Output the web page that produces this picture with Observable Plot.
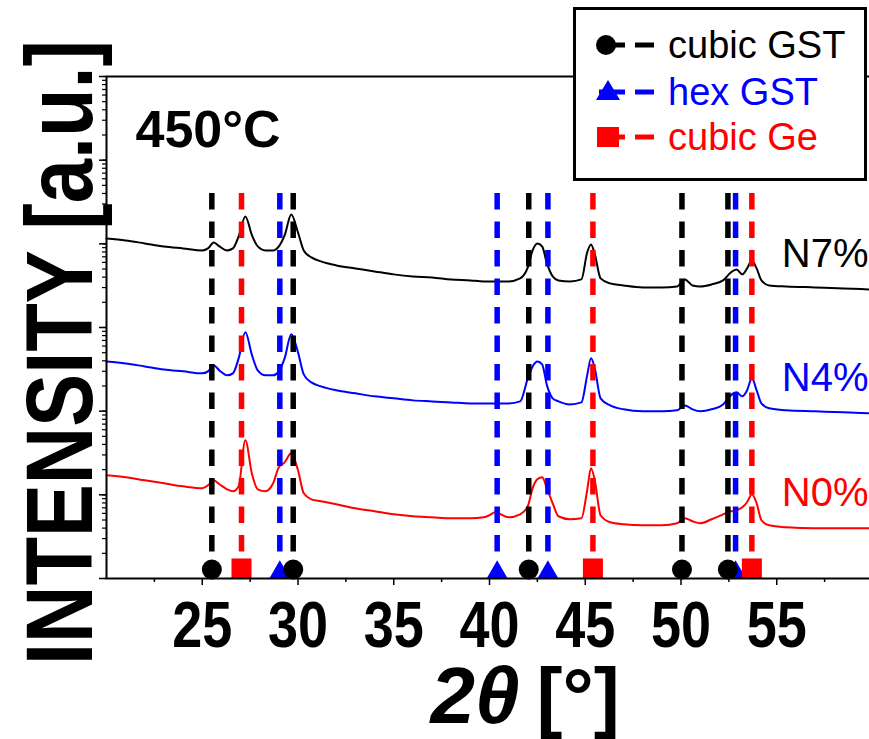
<!DOCTYPE html>
<html><head><meta charset="utf-8">
<script src="https://cdn.jsdelivr.net/npm/d3@7"></script>
<script src="https://cdn.jsdelivr.net/npm/@observablehq/plot@0.6"></script>
<style>
body{margin:0;background:#fff;}
#wrap{position:relative;width:869px;height:739px;overflow:hidden;background:#fff;}
#legend{position:absolute;left:573px;top:7px;}
</style></head><body><div id="wrap"></div>
<script>
// 2θ sample positions (degrees)
const twoTheta = [20,21,22,23,24,25,25.3,25.6,25.9,26.3,26.6,26.9,27.25,27.6,27.9,28.3,28.7,29.0,29.3,29.65,30.0,30.3,30.7,31.2,32,33,34,35,36,37,38,39,39.7,40.0,40.3,41,41.6,42.0,42.25,42.5,42.75,43.0,43.3,43.6,44.2,44.8,45.1,45.3,45.5,45.8,46.3,47,48,49,49.8,50.2,50.6,51,51.6,52.2,52.6,52.9,53.2,53.45,53.7,53.95,54.2,54.6,55.5,57,58.5,59.8];
// log10 of intensity (a.u.)
const logN7 = [4.065,4.041,4.005,3.969,3.945,3.921,3.945,4.017,3.969,3.921,3.945,4.089,4.327,4.100,3.969,3.921,3.921,3.969,4.100,4.351,4.136,3.921,3.838,3.790,3.742,3.706,3.670,3.635,3.611,3.599,3.575,3.563,3.551,3.551,3.551,3.551,3.587,3.718,3.921,4.005,3.969,3.766,3.611,3.563,3.551,3.575,3.897,3.993,3.874,3.587,3.527,3.503,3.479,3.479,3.491,3.575,3.503,3.491,3.515,3.563,3.658,3.694,3.635,3.706,3.802,3.706,3.563,3.503,3.491,3.479,3.467,3.455];
const logN4 = [2.595,2.571,2.535,2.499,2.476,2.452,2.476,2.547,2.487,2.428,2.452,2.631,2.942,2.667,2.487,2.428,2.428,2.476,2.631,2.918,2.703,2.440,2.344,2.296,2.249,2.213,2.177,2.153,2.129,2.117,2.105,2.093,2.093,2.093,2.093,2.093,2.117,2.392,2.535,2.595,2.559,2.308,2.153,2.117,2.081,2.105,2.428,2.631,2.511,2.153,2.069,2.022,1.998,1.998,2.010,2.069,2.022,1.998,2.022,2.081,2.189,2.225,2.177,2.249,2.392,2.249,2.093,2.034,2.010,1.998,1.986,1.974];
const logN0 = [1.233,1.209,1.173,1.138,1.102,1.078,1.114,1.173,1.126,1.066,1.042,1.102,1.651,1.245,1.066,1.042,1.138,1.329,1.388,1.496,1.293,1.018,0.946,0.923,0.887,0.839,0.803,0.767,0.744,0.732,0.720,0.720,0.732,0.756,0.791,0.732,0.767,0.863,1.078,1.185,1.209,1.078,0.899,0.744,0.708,0.720,1.054,1.317,1.173,0.756,0.672,0.648,0.636,0.636,0.660,0.720,0.684,0.660,0.708,0.767,0.803,0.815,0.851,0.911,1.006,0.899,0.696,0.636,0.612,0.600,0.600,0.600];

const seriesNames = ["N7%", "N4%", "N0%"];
const seriesColors = ["#000000", "#0000ff", "#ff0000"];

// reference peak positions (2θ)
const cubicGST = [25.5, 29.75, 42.05, 50.05, 52.45];
const hexGST = [29.05, 40.4, 43.05, 52.85];
const cubicGe = [27.05, 45.4, 53.7];
const phaseNames = ["cubic GST", "hex GST", "cubic Ge"];
const phaseColors = ["#000000", "#0000ff", "#ff0000"];
const phaseSymbols = ["circle", "triangle", "square"];

const xTickLabels = [25, 30, 35, 40, 45, 50, 55];
const xMinorTicks = [22.5, 27.5, 32.5, 37.5, 42.5, 47.5, 52.5, 57.5];
const yDecades = [1, 10, 100, 1000, 10000, 100000, 1000000];
const tempLabel = "450°C";
const yTitle = "INTENSITY [a.u.]";
const xTitleA = "2θ";
const xTitleB = "[°]";

const toRows = (logs, s) => twoTheta.map((t, i) => ({t, I: 10 ** logs[i], s}));
const rows = [...toRows(logN7, "N7%"), ...toRows(logN4, "N4%"), ...toRows(logN0, "N0%")];
const ends = seriesNames.map(s => rows.filter(r => r.s === s).at(-1));

const font = "'Liberation Sans', Arial, Helvetica, sans-serif";
const dash = {strokeWidth: 5.5, strokeDasharray: "16.5,12", insetTop: 117, insetBottom: 26};

const plot = Plot.plot({
  width: 869, height: 739,
  marginTop: 76, marginLeft: 106, marginRight: -3, marginBottom: 161,
  style: {fontFamily: font, background: "#fff", color: "#000"},
  x: {domain: [20, 60], label: null},
  y: {type: "log", domain: [1, 1e6], label: null},
  color: {domain: seriesNames, range: seriesColors},
  marks: [
    Plot.line(rows, {x: "t", y: "I", z: "s", stroke: "s", strokeWidth: 2, curve: "monotone-x"}),
    Plot.ruleX(cubicGST, {stroke: phaseColors[0], ...dash}),
    Plot.ruleX(hexGST, {stroke: phaseColors[1], ...dash}),
    Plot.ruleX(cubicGe, {stroke: phaseColors[2], ...dash}),
    Plot.dot(hexGST, {x: d => d, frameAnchor: "bottom", symbol: "triangle", r: 7.8, fill: phaseColors[1], dy: -6}),
    Plot.dot(cubicGST, {x: d => d, frameAnchor: "bottom", symbol: "circle", r: 10, fill: phaseColors[0], dy: -9}),
    Plot.dot(cubicGe, {x: d => d, frameAnchor: "bottom", symbol: "square", r: 11.3, fill: phaseColors[2], dy: -10}),
    Plot.frame({stroke: "#000", strokeWidth: 2}),
    Plot.axisX(xMinorTicks, {tickSize: 4, strokeWidth: 1.5, tickFormat: () => "", label: null}),
    Plot.axisX(xTickLabels, {tickSize: 7, tickPadding: 16, strokeWidth: 1.5, fontSize: 64, fontWeight: "bold", label: null}),
    Plot.axisY({ticks: 10, tickSize: 4, strokeWidth: 1.2, tickFormat: () => "", label: null}),
    Plot.axisY(yDecades, {tickSize: 7, strokeWidth: 1.5, tickFormat: () => "", label: null}),
    Plot.text([tempLabel], {text: d => d, frameAnchor: "top-left", textAnchor: "start", lineAnchor: "top", dx: 29, dy: 34, fontSize: 52, fontWeight: "bold"}),
    Plot.text(ends, {y: "I", text: "s", fill: "s", frameAnchor: "right", textAnchor: "end", lineAnchor: "bottom", dx: -4, dy: -22, fontSize: 40}),
    Plot.text([yTitle], {text: d => d, frameAnchor: "left", rotate: -90, textAnchor: "middle", lineAnchor: "middle", dx: -45, dy: 25, fontSize: 95, fontWeight: "bold"}),
    Plot.text([xTitleA], {text: d => d, frameAnchor: "bottom", textAnchor: "end", lineAnchor: "bottom", dx: 30, dy: 144, fontSize: 80, fontWeight: "bold", fontStyle: "italic"}),
    Plot.text([xTitleB], {text: d => d, frameAnchor: "bottom", textAnchor: "start", lineAnchor: "bottom", dx: 47, dy: 144, fontSize: 78, fontWeight: "bold"})
  ]
});

// condense the tall bold titles / tick labels the way the original figure does
const tickStrings = xTickLabels.map(String);
plot.querySelectorAll("text").forEach(t => {
  const s = t.textContent;
  if (s === yTitle) {
    t.setAttribute("textLength", "625"); t.setAttribute("lengthAdjust", "spacingAndGlyphs");
  } else if (tickStrings.includes(s)) {
    t.setAttribute("textLength", "60"); t.setAttribute("lengthAdjust", "spacingAndGlyphs");
  }
});

const wrap = document.getElementById("wrap");
wrap.appendChild(plot);

// legend (overlay box, top right)
const lg = d3.select(wrap).append("svg").attr("id", "legend").attr("width", 296).attr("height", 176)
  .style("font-family", font);
lg.append("rect").attr("x", 1.5).attr("y", 1.5).attr("width", 291).attr("height", 171)
  .attr("fill", "#fff").attr("stroke", "#000").attr("stroke-width", 3);
const rowY = [38, 85, 130];
phaseNames.forEach((name, i) => {
  const g = lg.append("g").attr("transform", `translate(0,${rowY[i]})`);
  g.append("line").attr("x1", 26).attr("x2", 52).attr("y1", 0).attr("y2", 0).attr("stroke", phaseColors[i]).attr("stroke-width", 5);
  g.append("line").attr("x1", 62).attr("x2", 81).attr("y1", 0).attr("y2", 0).attr("stroke", phaseColors[i]).attr("stroke-width", 5);
  const sym = phaseSymbols[i];
  if (sym === "circle") g.append("circle").attr("cx", 33).attr("cy", 0).attr("r", 10).attr("fill", phaseColors[i]);
  else if (sym === "triangle") g.append("path").attr("d", "M35,-12L23,8L47,8Z").attr("fill", phaseColors[i]);
  else g.append("rect").attr("x", 24).attr("y", -10).attr("width", 22).attr("height", 20).attr("fill", phaseColors[i]);
  g.append("text").attr("x", 95).attr("y", 13).attr("font-size", 38).attr("fill", phaseColors[i]).text(name);
});
</script></body></html>
